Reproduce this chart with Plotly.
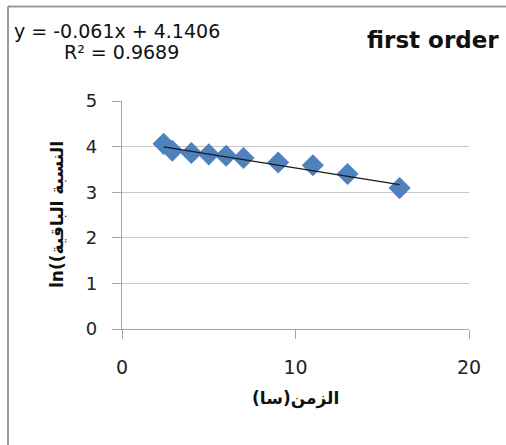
import plotly.graph_objects as go

# data
time_h = [2.4, 2.9, 4, 5, 6, 7, 9, 11, 13, 16]
ln_remaining = [4.06, 3.91, 3.86, 3.83, 3.80, 3.75, 3.65, 3.59, 3.40, 3.09]
trend_slope = -0.061
trend_intercept = 4.1406
equation_text = "y = -0.061x + 4.1406"
r2_text = "R² = 0.9689"
title_text = "first order"
x_title = "(سا)الزمن"
y_title = "ln((النسبة الباقية"
x_ticks = [0, 10, 20]
y_ticks = [0, 1, 2, 3, 4, 5]

W, H = 506, 445
L, R, T, B = 122, 469, 101, 329  # plot area pixel bounds


def px(xp):
    return (xp - L) / (R - L)


def py(yp):
    return (B - yp) / (B - T)


x0, x1 = min(time_h), max(time_h)
trend_x = [x0, x1]
trend_y = [trend_intercept + trend_slope * v for v in trend_x]

fig = go.Figure()
fig.add_trace(go.Scatter(
    x=time_h, y=ln_remaining, mode="markers",
    marker=dict(symbol="diamond", size=17, color="#4f81bd", line=dict(width=0)),
    showlegend=False, cliponaxis=False,
))
fig.add_trace(go.Scatter(
    x=trend_x, y=trend_y, mode="lines",
    line=dict(color="#1a1a1a", width=1.2),
    showlegend=False,
))

font = "DejaVu Sans"
fig.update_layout(
    width=W, height=H,
    margin=dict(l=L, r=W - R, t=T, b=H - B),
    paper_bgcolor="white", plot_bgcolor="white",
    font=dict(family=font, color="#000000"),
    xaxis=dict(
        range=[0, 20], tickvals=x_ticks, showgrid=False, zeroline=False,
        showline=True, linecolor="#a6a6a6", linewidth=1.3,
        ticks="outside", ticklen=9, tickcolor="#a6a6a6", tickwidth=1.3,
        tickfont=dict(size=19, family=font, color="#222"),
        ticklabelstandoff=12, fixedrange=True,
    ),
    yaxis=dict(
        range=[0, 5], tickvals=y_ticks, showgrid=True, gridcolor="#c6c6c6",
        gridwidth=1.3, zeroline=False,
        showline=True, linecolor="#a6a6a6", linewidth=1.3,
        ticks="outside", ticklen=9, tickcolor="#a6a6a6", tickwidth=1.3,
        tickfont=dict(size=18, family=font, color="#222"),
        ticklabelstandoff=11, fixedrange=True,
    ),
    shapes=[
        dict(type="line", xref="paper", yref="paper",
             x0=px(8), x1=px(W + 5), y0=py(6.5), y1=py(6.5),
             line=dict(color="#9a9a9a", width=2)),
        dict(type="line", xref="paper", yref="paper",
             x0=px(8), x1=px(8), y0=py(6.5), y1=py(H + 5),
             line=dict(color="#9a9a9a", width=2)),
    ],
    annotations=[
        dict(text=equation_text, xref="paper", yref="paper",
             x=px(12), y=py(31), xanchor="left", yanchor="middle",
             showarrow=False, font=dict(size=19, family=font, color="#111")),
        dict(text=r2_text, xref="paper", yref="paper",
             x=px(62), y=py(52), xanchor="left", yanchor="middle",
             showarrow=False, font=dict(size=19, family=font, color="#111")),
        dict(text="<b>" + title_text + "</b>", xref="paper", yref="paper",
             x=px(501), y=py(40), xanchor="right", yanchor="middle",
             showarrow=False, font=dict(size=23, family=font, color="#111")),
        dict(text="<b>" + x_title + "</b>", xref="paper", yref="paper",
             x=px(295), y=py(398), xanchor="center", yanchor="middle",
             showarrow=False, font=dict(size=17, family=font, color="#111")),
        dict(text="<b>" + y_title + "</b>", xref="paper", yref="paper",
             x=px(57), y=py(215), xanchor="center", yanchor="middle",
             textangle=-90,
             showarrow=False, font=dict(size=17, family=font, color="#111")),
    ],
)

fig.write_html("out.html")
